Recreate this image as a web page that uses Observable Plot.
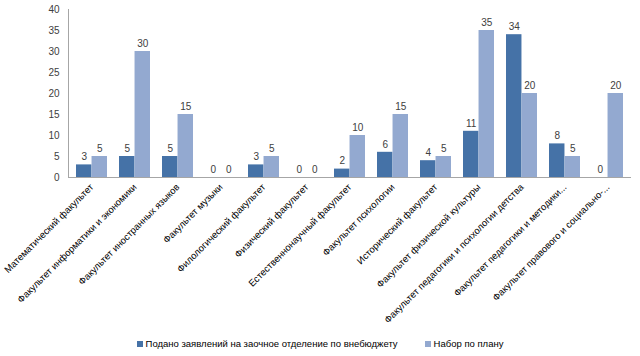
<!DOCTYPE html>
<html>
<head>
<meta charset="utf-8">
<script src="https://cdn.jsdelivr.net/npm/d3@7"></script>
<script src="https://cdn.jsdelivr.net/npm/@observablehq/plot@0.6"></script>
<style>
  html, body { margin: 0; padding: 0; background: #fff; }
  #chart { width: 640px; height: 356px; overflow: hidden; font-family: "Liberation Sans", Arial, sans-serif; }
  .legend { display: flex; justify-content: center; align-items: center; gap: 27px; font-size: 9.5px; color: #000; padding-top: 8px; }
  .legend span.sw { display: inline-block; width: 6px; height: 6px; margin-right: 3px; vertical-align: middle; }
  .legend .item { display: flex; align-items: center; }
</style>
</head>
<body>
<div id="chart"></div>
<script>
const categories = [
  "Математический факультет",
  "Факультет информатики и экономики",
  "Факультет иностранных языков",
  "Факультет музыки",
  "Филологический факультет",
  "Физический факультет",
  "Естественнонаучный факультет",
  "Факультет психологии",
  "Исторический факультет",
  "Факультет физической культуры",
  "Факультет педагогики и психологии детства",
  "Факультет педагогики и методики...",
  "Факультет правового и социально-..."
];
const seriesNames = ["Подано заявлений на заочное отделение по внебюджету", "Набор по плану"];
const applied = [3, 5, 5, 0, 3, 0, 2, 6, 4, 11, 34, 8, 0];
const plan = [5, 30, 15, 0, 5, 0, 10, 15, 5, 35, 20, 5, 20];
const yTicks = [0, 5, 10, 15, 20, 25, 30, 35, 40];
const colors = ["#4572A7", "#93A9D0"];

const W = 640, H = 330;
const mL = 68, mR = 9, mT = 9, mB = 153;
const pIn = 0.28, pOut = 0.16;
const step = (W - mL - mR) / (categories.length - pIn + 2 * pOut);
const half = step * (1 - pIn) / 2;

const rowsA = categories.map((c, i) => ({cat: c, value: applied[i]}));
const rowsP = categories.map((c, i) => ({cat: c, value: plan[i]}));

const chart = Plot.plot({
  width: W, height: H,
  marginLeft: mL, marginRight: mR, marginTop: mT, marginBottom: mB,
  style: {fontFamily: "Liberation Sans, Arial, sans-serif", fontSize: "9px", color: "#000", background: "#fff"},
  x: {type: "band", domain: categories, paddingInner: pIn, paddingOuter: pOut, label: null},
  y: {domain: [0, 40], label: null},
  marks: [
    Plot.barY(rowsA, {x: "cat", y: "value", fill: colors[0], insetRight: half, insetLeft: 0}),
    Plot.barY(rowsP, {x: "cat", y: "value", fill: colors[1], insetLeft: half, insetRight: 0}),
    Plot.text(rowsA, {x: "cat", y: "value", text: d => String(d.value), dx: -half / 2, dy: -8, fontSize: 10, fill: "#404040"}),
    Plot.text(rowsP, {x: "cat", y: "value", text: d => String(d.value), dx: half / 2, dy: -8, fontSize: 10, fill: "#404040"}),
    Plot.ruleY([0], {stroke: "#A6A6A6"}),
    Plot.frame({anchor: "left", stroke: "#A6A6A6"}),
    Plot.axisY({ticks: yTicks, tickSize: 0, tickPadding: 9, label: null, fontSize: 10, fill: "#404040"}),
    Plot.axisX({tickRotate: -45, tickSize: 0, tickPadding: 8, label: null, fontSize: 9.5})
  ]
});
document.getElementById("chart").appendChild(chart);

const legend = document.createElement("div");
legend.className = "legend";
seriesNames.forEach((s, i) => {
  const it = document.createElement("div");
  it.className = "item";
  const sw = document.createElement("span");
  sw.className = "sw";
  sw.style.background = colors[i];
  it.appendChild(sw);
  it.appendChild(document.createTextNode(s));
  legend.appendChild(it);
});
document.getElementById("chart").appendChild(legend);
</script>
</body>
</html>
